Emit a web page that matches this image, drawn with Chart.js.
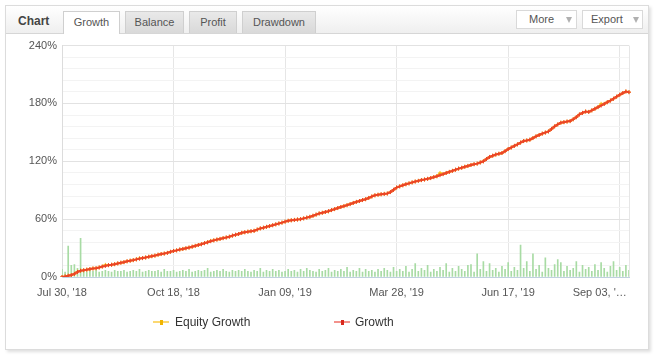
<!DOCTYPE html>
<html><head><meta charset="utf-8">
<script src="https://cdn.jsdelivr.net/npm/chart.js@4.4.0/dist/chart.umd.min.js"></script>
<style>
html,body{margin:0;padding:0;background:#fff;width:657px;height:358px;overflow:hidden;font-family:"Liberation Sans",Arial,sans-serif;}
#panel{position:absolute;left:5px;top:5px;width:642px;height:343px;border:1px solid #dcdcdc;box-shadow:2px 2px 3px rgba(0,0,0,0.13);background:#fff;}
#head{position:absolute;left:0;top:0;width:642px;height:27px;background:linear-gradient(#ffffff,#efefef);border-bottom:1px solid #d6d6d6;}
#title{position:absolute;left:12px;top:8px;font-size:12px;font-weight:bold;color:#444;}
.tab{position:absolute;top:5px;height:21px;border:1px solid #cfcfcf;border-bottom:none;font-size:11px;color:#555;text-align:center;line-height:21px;box-sizing:content-box;background:linear-gradient(#e9e9e9,#d9d9d9);}
.tab.active{background:#fff;height:22px;}
.btn{position:absolute;top:4px;height:17px;width:59px;border:1px solid #d9d9d9;background:#fff;font-size:11px;color:#555;line-height:17px;}
.btn span{position:absolute;top:0;}
.btn i{position:absolute;top:6px;width:0;height:0;border-left:3.5px solid transparent;border-right:3.5px solid transparent;border-top:6px solid #b0b0b0;}
#chartbox{position:absolute;left:0;top:28px;width:641px;height:315px;}
.leg{position:absolute;font-size:12px;color:#333;top:308px;line-height:16px;}
.sym{position:absolute;top:7px;width:16px;height:2px;}
.sym b{position:absolute;left:6.5px;top:-1.5px;width:3px;height:5px;}
</style>
</head><body>
<div id="panel">
  <div id="head">
    <div id="title">Chart</div>
    <div class="tab active" style="left:57px;width:55px;">Growth</div>
    <div class="tab" style="left:119px;width:57px;">Balance</div>
    <div class="tab" style="left:183px;width:46px;">Profit</div>
    <div class="tab" style="left:236px;width:72px;">Drawdown</div>
    <div class="btn" style="left:510px;"><span style="left:12px;">More</span><i style="left:49px;"></i></div>
    <div class="btn" style="left:576px;"><span style="left:8px;">Export</span><i style="left:50px;"></i></div>
  </div>
  <div id="chartbox"><canvas id="c" width="641" height="315"></canvas></div>
  <div class="leg" style="left:147px;"><div class="sym" style="left:0;background:#fbd872;"><b style="background:#f0b400;"></b></div><span style="margin-left:22px;">Equity Growth</span></div>
  <div class="leg" style="left:328px;"><div class="sym" style="left:0;background:#f3928c;"><b style="background:#d8281c;"></b></div><span style="margin-left:21px;">Growth</span></div>
</div>
<script>
const tickLabels = ["Jul 30, '18", "Oct 18, '18", "Jan 09, '19", "Mar 28, '19", "Jun 17, '19", "Sep 03, '\u2026"];
const tickEvery = 36;

const growth = [
  0, 0.6, 1.3, 2.0, 3.2, 5.2, 6.5, 7.0, 7.6, 8.2,
  8.8, 9.1, 9.9, 10.8, 11.5, 12.3, 12.7, 13.3, 14.1, 14.8,
  15.4, 16.3, 16.9, 17.5, 18.3, 19.0, 19.6, 20.2, 21.0, 21.6,
  22.2, 23.1, 23.8, 24.3, 25.0, 26.1, 27.0, 27.6, 28.5, 29.1,
  29.8, 30.5, 31.4, 32.3, 33.2, 34.0, 35.1, 36.0, 37.1, 38.0,
  38.8, 39.5, 40.3, 41.0, 41.8, 42.9, 43.8, 44.6, 45.8, 46.4,
  47.0, 47.5, 47.9, 49.2, 50.4, 51.1, 52.0, 52.8, 53.7, 54.6,
  55.5, 56.4, 57.4, 58.3, 58.8, 59.2, 59.6, 60.0, 60.8, 61.6,
  62.4, 63.5, 64.7, 65.9, 66.6, 67.4, 68.3, 69.4, 70.4, 71.5,
  72.6, 73.5, 74.5, 75.6, 76.8, 77.9, 78.8, 79.8, 80.7, 82.0,
  83.5, 84.7, 85.3, 85.8, 86.2, 86.6, 88.1, 90.4, 92.8, 94.0,
  95.1, 96.2, 97.1, 98.1, 99.0, 99.7, 100.5, 101.1, 101.8, 102.6,
  103.6, 104.5, 105.6, 106.7, 107.9, 109.0, 110.1, 111.3, 112.4, 113.3,
  114.3, 115.2, 116.2, 117.0, 117.6, 118.8, 120.0, 122.4, 124.5, 125.8,
  127.0, 127.8, 128.6, 130.5, 132.7, 134.3, 136.0, 137.6, 139.4, 141.0,
  141.6, 142.4, 144.1, 145.9, 147.3, 148.7, 149.8, 151.0, 153.6, 156.2,
  158.2, 160.0, 160.6, 161.2, 161.7, 163.6, 165.8, 168.6, 170.2, 171.6,
  171.2, 172.8, 174.5, 176.2, 177.8, 179.5, 181.3, 183.0, 184.9, 187.0,
  189.0, 190.8, 192.4, 191.7
];

const equityGrowth = [
  0, 0.6, 1.3, 2.0, 3.2, 5.6, 6.5, 7.0, 7.6, 8.2,
  8.8, 9.1, 9.9, 10.8, 12.6, 12.3, 12.7, 13.3, 14.1, 14.8,
  15.4, 16.3, 16.9, 17.5, 18.3, 19.4, 19.6, 20.2, 21.0, 21.6,
  22.2, 23.1, 23.8, 24.3, 25.0, 26.1, 27.0, 27.6, 28.5, 29.1,
  29.8, 30.5, 31.4, 32.3, 33.2, 34.0, 35.1, 36.0, 37.5, 38.0,
  38.8, 39.5, 40.3, 41.0, 41.8, 42.9, 43.8, 44.6, 45.8, 46.4,
  47.0, 47.5, 47.9, 49.2, 50.4, 51.1, 52.0, 52.8, 53.7, 54.6,
  55.5, 56.4, 57.4, 58.3, 58.8, 59.2, 59.6, 60.0, 60.8, 61.6,
  62.4, 63.5, 64.7, 65.9, 66.6, 67.4, 68.0, 69.4, 70.4, 71.5,
  72.6, 73.5, 74.5, 75.6, 76.8, 77.9, 78.8, 79.8, 80.7, 82.0,
  83.5, 84.7, 85.3, 85.8, 86.2, 86.6, 88.1, 90.4, 92.8, 94.0,
  95.1, 96.2, 97.1, 98.1, 99.0, 99.7, 100.5, 101.1, 101.8, 102.6,
  103.6, 104.5, 107.9, 106.7, 107.9, 109.0, 110.1, 111.3, 112.4, 113.3,
  114.3, 115.2, 116.2, 117.0, 117.6, 118.8, 120.0, 122.4, 124.5, 125.8,
  127.0, 127.8, 128.6, 130.5, 132.7, 134.3, 136.0, 137.6, 139.4, 141.0,
  141.6, 142.4, 144.1, 145.9, 147.3, 148.7, 149.8, 151.0, 153.6, 156.2,
  158.2, 160.0, 160.6, 161.2, 161.7, 163.6, 165.8, 168.6, 170.2, 171.6,
  171.2, 172.8, 174.5, 176.2, 179.6, 179.5, 181.3, 183.0, 184.9, 187.0,
  189.0, 190.8, 192.4, 191.7
];

const bars = [
  8, 5, 32, 12, 13, 9, 40, 6, 5, 7,
  6, 7, 5, 6, 7, 6, 5, 7, 6, 6,
  7, 5, 6, 7, 6, 8, 5, 6, 7, 6,
  6, 7, 5, 8, 6, 6, 7, 5, 6, 7,
  6, 8, 5, 6, 7, 6, 7, 9, 5, 6,
  7, 6, 8, 6, 5, 7, 6, 7, 6, 8,
  6, 5, 7, 6, 9, 5, 7, 6, 8, 6,
  7, 5, 6, 8, 6, 7, 5, 8, 6, 9,
  7, 6, 5, 8, 6, 7, 9, 5, 7, 6,
  8, 6, 10, 5, 7, 6, 9, 5, 8, 6,
  7, 5, 8, 6, 9, 7, 5, 10, 6, 8,
  6, 11, 5, 8, 14, 6, 9, 7, 12, 5,
  8, 6, 10, 7, 14, 5, 9, 6, 11, 8,
  6, 12, 13, 5, 24, 8, 16, 6, 14, 7,
  9, 5, 11, 8, 15, 6, 10, 7, 33, 9,
  16, 6, 24, 8, 12, 5, 20, 9, 7, 13,
  18, 15, 6, 11, 7, 9, 16, 5, 12, 8,
  10, 6, 13, 7, 15, 9, 5, 11, 16, 7,
  10, 6, 12, 7
];

const categories = growth.map((_, i) => String(i + 1));

Chart.defaults.font.family = '"Liberation Sans", Arial, sans-serif';
Chart.defaults.font.size = 11;
Chart.defaults.color = '#5a5a5a';

const shiftLastLabel = {
  id: 'shiftLastLabel',
  beforeDraw(chart) {
    const sc = chart.scales.x;
    const items = sc.getLabelItems(chart.chartArea);
    items.forEach(it => {
      if (it.label === tickLabels[tickLabels.length - 1] && !it._shifted) {
        it.options.translation[0] -= 20;
        it._shifted = true;
      }
    });
  }
};

new Chart(document.getElementById('c'), {
  type: 'line',
  data: {
    labels: categories,
    datasets: [
      {
        label: 'Growth',
        data: growth,
        borderColor: '#f0502f',
        backgroundColor: '#f0502f',
        borderWidth: 2,
        pointStyle: 'cross',
        pointRadius: 2,
        pointBorderWidth: 1,
        pointBorderColor: '#ea4228',
        tension: 0,
        order: 1
      },
      {
        label: 'Equity Growth',
        data: equityGrowth,
        borderColor: '#f7c21f',
        backgroundColor: '#f7c21f',
        borderWidth: 2,
        pointStyle: 'cross',
        pointRadius: 2,
        pointBorderWidth: 1,
        tension: 0,
        order: 2
      },
      {
        type: 'bar',
        label: 'Bars',
        data: bars,
        backgroundColor: '#a8dba4',
        barThickness: 1,
        order: 3
      }
    ]
  },
  options: {
    responsive: false,
    animation: false,
    layout: { padding: { left: 0, right: 18, top: 11, bottom: 42 } },
    plugins: { legend: { display: false }, tooltip: { enabled: false } },
    scales: {
      x: {
        offset: false,
        grid: { color: '#e6e6e6', drawTicks: false, offset: false },
        border: { color: '#c0d0e0' },
        ticks: {
          autoSkip: false, maxRotation: 0, minRotation: 0, padding: 9,
          color: '#555',
          callback: (v, i) => {
            if (i % tickEvery === 0 && tickLabels[i / tickEvery] !== undefined) return tickLabels[i / tickEvery];
            if (i === categories.length - 1) return '';
            return null;
          }
        },
        afterFit: s => { s.height = 30; }
      },
      y: {
        min: 0, max: 240,
        grid: { drawTicks: false, color: c => (c.tick && c.tick.value % 60 === 0) ? '#e2e2e2' : '#f3f3f3' },
        border: { color: '#dcdcdc' },
        ticks: {
          stepSize: 12, padding: 5, color: '#555', autoSkip: false,
          callback: v => (v % 60 === 0 ? v + '%' : '')
        },
        afterFit: s => { s.width = 56; }
      }
    }
  },
  plugins: [shiftLastLabel]
});
</script>
</body></html>
